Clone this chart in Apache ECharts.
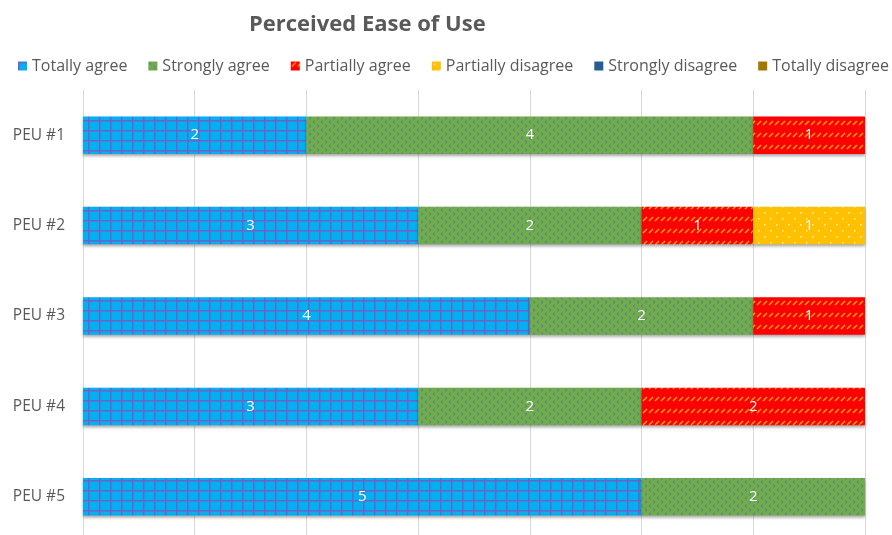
<!DOCTYPE html>
<html><head><meta charset="utf-8">
<script src="https://cdn.jsdelivr.net/npm/echarts@6/dist/echarts.min.js"></script>
<style>html,body{margin:0;padding:0;background:#fff;overflow:hidden}#c{width:892px;height:545px}</style>
</head><body><div id="c"></div>
<script>
const categories = ['PEU #1','PEU #2','PEU #3','PEU #4','PEU #5'];
const seriesNames = ['Totally agree','Strongly agree','Partially agree','Partially disagree','Strongly disagree','Totally disagree'];
const totallyAgree = [2,3,4,3,5];
const stronglyAgree = [4,2,2,2,2];
const partiallyAgree = [1,1,1,2,null];
const partiallyDisagree = [null,1,null,null,null];
const stronglyDisagree = [null,null,null,null,null];
const totallyDisagree = [null,null,null,null,null];
const seriesData = [totallyAgree,stronglyAgree,partiallyAgree,partiallyDisagree,stronglyDisagree,totallyDisagree];
const colors = ['#00B0F0','#70AD47','#FF0000','#FFC000','#255E91','#9E7A00'];

function mk(w,h,draw){const c=document.createElement('canvas');c.width=w;c.height=h;draw(c.getContext('2d'),w,h);return c;}
const patterns = [
  mk(11,10,(g,w,h)=>{g.fillStyle='#00B0F0';g.fillRect(0,0,w,h);g.fillStyle='#6C63C8';g.fillRect(0,0,w,1.5);g.fillRect(0,0,1.5,h);}),
  mk(8,8,(g,w,h)=>{g.fillStyle='#70AD47';g.fillRect(0,0,w,h);g.strokeStyle='#5A78B4';g.lineWidth=1;
     g.beginPath();g.moveTo(3,0.5);g.lineTo(1,2);g.lineTo(3,3.5);g.stroke();
     g.beginPath();g.moveTo(5,4.5);g.lineTo(7,6);g.lineTo(5,7.5);g.stroke();}),
  mk(6,12,(g,w,h)=>{g.fillStyle='#FF0000';g.fillRect(0,0,w,h);g.strokeStyle='#FFB000';g.lineWidth=1.3;
     g.beginPath();g.moveTo(1,5);g.lineTo(5,1);g.stroke();}),
  mk(12,12,(g,w,h)=>{g.fillStyle='#FFC000';g.fillRect(0,0,w,h);g.fillStyle='#FFF3C0';g.fillRect(2,2,1.5,1.5);g.fillRect(8,8,1.5,1.5);}),
  null,null
];

const series = seriesNames.map((n,i)=>({
  name:n,type:'bar',stack:'total',barWidth:'41.5%',data:seriesData[i],
  itemStyle:{color: patterns[i]?{image:patterns[i],repeat:'repeat'}:colors[i],
    shadowColor:'rgba(0,0,0,0.35)',shadowBlur:3,shadowOffsetY:2},
  label:{show:true,position:'inside',color:'#fff',fontFamily:'Open Sans',fontSize:15},
  emphasis:{disabled:true}
}));

const chart = echarts.init(document.getElementById('c'),null,{renderer:'canvas'});
chart.setOption({
  animation:false,
  color:colors,
  title:{text:'Perceived Ease of Use',left:244,top:9,textStyle:{fontFamily:'Open Sans',fontWeight:'bold',fontSize:22,color:'#595959'}},
  legend:{top:58,left:18,width:880,padding:0,itemWidth:9,itemHeight:9,itemGap:21,icon:'rect',
    textStyle:{fontFamily:'Open Sans',fontSize:16,color:'#595959'},data:seriesNames},
  grid:{left:83,right:27,top:90,height:452,containLabel:false},
  xAxis:{type:'value',min:0,max:7,interval:1,axisLabel:{show:false},axisLine:{show:false},axisTick:{show:false},
    splitLine:{lineStyle:{color:'#D9D9D9'}}},
  yAxis:{type:'category',inverse:true,data:categories,axisLine:{show:false},axisTick:{show:false},
    axisLabel:{fontFamily:'Open Sans',fontSize:15.5,color:'#595959',margin:18}},
  series:series
});
</script></body></html>
